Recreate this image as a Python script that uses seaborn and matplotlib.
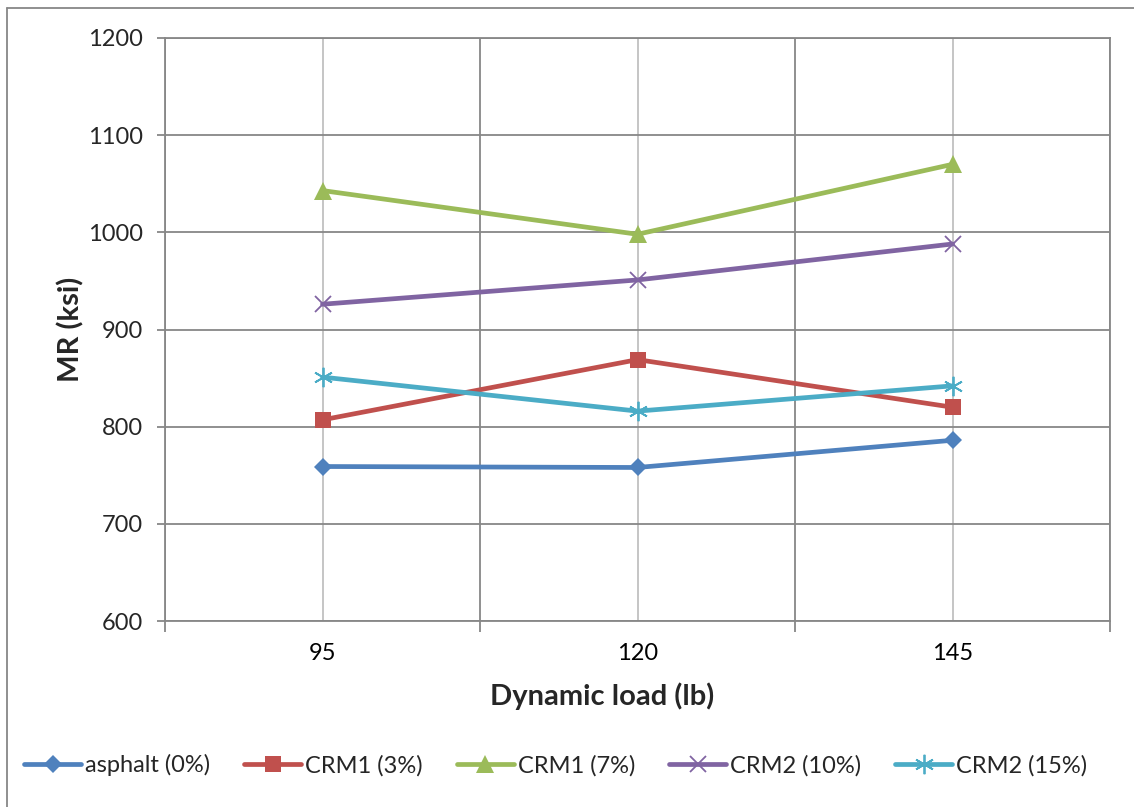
import matplotlib
matplotlib.use("Agg")
import matplotlib.pyplot as plt
from matplotlib.lines import Line2D
from matplotlib.ticker import FixedLocator, NullFormatter, FixedFormatter
import seaborn as sns
import pandas as pd

# Dynamic load levels (lb) and resilient modulus (ksi) per mix
loads = [95, 120, 145]
asphalt_0 = [759, 758, 786]
crm1_3 = [807, 869, 820]
crm1_7 = [1043, 998, 1070]
crm2_10 = [926, 951, 988]
crm2_15 = [851, 816, 842]

series_names = ["asphalt (0%)", "CRM1 (3%)", "CRM1 (7%)", "CRM2 (10%)", "CRM2 (15%)"]
series_values = [asphalt_0, crm1_3, crm1_7, crm2_10, crm2_15]
y_ticks = [600, 700, 800, 900, 1000, 1100, 1200]

colors = ["#4F81BD", "#C0504D", "#9BBB59", "#8064A2", "#4BACC6"]
markers = ["D", "s", "^", "x", (6, 2, 0)]
msizes = [9.5, 11, 13, 12, 14]
mews = [0, 0, 0, 1.3, 1.3]

sns.set_style("white")
plt.rcParams["font.family"] = ["Lato", "DejaVu Sans"]

fig = plt.figure(figsize=(11.34, 8.07), dpi=100)
ax = fig.add_axes([165 / 1134, 1 - 621 / 807, 945 / 1134, 583 / 807])

frames = []
for name, vals in zip(series_names, series_values):
    frames.append(pd.DataFrame({"load": loads, "mr": vals, "mix": name}))
df = pd.concat(frames, ignore_index=True)

for name, c, m, ms, mew in zip(series_names, colors, markers, msizes, mews):
    sub = df[df["mix"] == name]
    sns.lineplot(data=sub, x="load", y="mr", ax=ax, color=c, linewidth=3.4,
                 marker=m, markersize=ms, markeredgewidth=mew,
                 markeredgecolor=c, markerfacecolor=c, label=name,
                 sort=False, zorder=3)

grid_dark = "#878787"
grid_light = "#C0C0C0"

step = loads[1] - loads[0]
ax.set_xlim(loads[0] - step / 2, loads[-1] + step / 2)
ax.set_ylim(y_ticks[0], y_ticks[-1])

# Category boundaries carry the dark grid, category centres the light one
bounds = [loads[0] - step / 2 + i * step for i in range(len(loads) + 1)]
ax.xaxis.set_major_locator(FixedLocator(bounds))
ax.xaxis.set_major_formatter(NullFormatter())
ax.xaxis.set_minor_locator(FixedLocator(loads))
ax.xaxis.set_minor_formatter(FixedFormatter([str(v) for v in loads]))
ax.set_yticks(y_ticks)

ax.grid(True, which="major", axis="both", color=grid_dark, linewidth=1.3, zorder=0)
ax.grid(True, which="minor", axis="x", color=grid_light, linewidth=1.3, zorder=0)
ax.set_axisbelow(True)

ax.tick_params(axis="x", which="major", length=8, width=1.3, color=grid_dark,
               direction="out", bottom=True)
ax.tick_params(axis="x", which="minor", length=0, labelsize=17, pad=16,
               labelcolor="black", bottom=True)
ax.tick_params(axis="y", which="major", length=6, width=1.3, color=grid_dark,
               direction="out", labelsize=17, pad=10, left=True)

for sp in ax.spines.values():
    sp.set_color(grid_dark)
    sp.set_linewidth(1.3)

ax.set_xlabel("Dynamic load (lb)", fontsize=21, fontweight="bold")
ax.set_ylabel("MR (ksi)", fontsize=21, fontweight="bold")
ax.xaxis.set_label_coords(0.4624, -0.106)
ax.yaxis.set_label_coords(-0.085, 0.5)

handles, labels = ax.get_legend_handles_labels()
ax.get_legend().remove()
fig.legend(handles, labels, loc="center", bbox_to_anchor=(0.49, 0.052),
           ncol=5, frameon=False, fontsize=17, handlelength=2.4,
           handletextpad=0.17, columnspacing=1.45)

# Outer chart border (left and top edges)
fig.add_artist(Line2D([7 / 1134, 7 / 1134], [0, 1 - 8 / 807],
                      transform=fig.transFigure, color=grid_dark, linewidth=1.3))
fig.add_artist(Line2D([7 / 1134, 1], [1 - 8 / 807, 1 - 8 / 807],
                      transform=fig.transFigure, color=grid_dark, linewidth=1.3))

fig.savefig("out.png", dpi=100)
